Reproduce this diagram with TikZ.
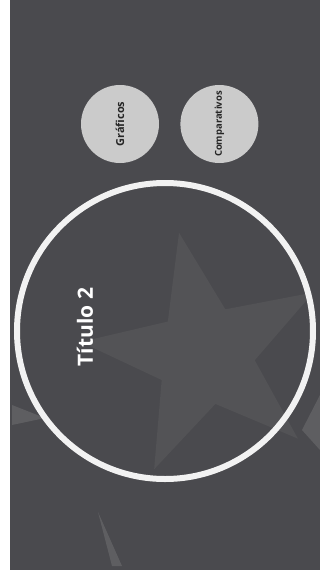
\documentclass[tikz,border=0pt]{standalone}
\usepackage{fontspec}
\setmainfont{Open Sans}
\usepackage{tikz}
\usetikzlibrary{positioning, shapes.geometric}
\definecolor{slidedark}{HTML}{4A4A4E}
\definecolor{slidestar}{HTML}{535356}
\definecolor{slidefaint}{HTML}{5E5E61}
\definecolor{slidebubble}{HTML}{CBCBCB}
\definecolor{slidering}{HTML}{F2F2F2}
\tikzset{
  ring/.style={circle, draw=slidering, line width=6pt, minimum size=296pt, inner sep=0pt},
  bubble/.style={circle, fill=slidebubble, minimum size=78pt, inner sep=0pt},
  bubbletext/.style={rotate=90, font=\bfseries, text=black!85, inner sep=0pt},
  titletext/.style={rotate=90, font=\fontsize{21}{24}\selectfont\bfseries, text=white, inner sep=0pt},
  starbg/.style={star, star points=5, star point ratio=2.5, inner sep=0pt, fill=slidestar},
}

\begin{document}
\begin{tikzpicture}[x=1pt, y=-1pt]
  \useasboundingbox (0,0) rectangle (320,579);
  \fill[white] (0,0) rectangle (320,579);
  \fill[slidedark] (10,0) rectangle (320,570);

  % background stars
  \node[starbg, minimum size=250pt, shape border rotate=12] (bigstar) at (205,355) {};
  \fill[slidefaint] (98,512) -- (122,566) -- (112,566) -- cycle;
  \fill[slidefaint] (12,405) -- (45,418) -- (12,425) -- cycle;
  \fill[slidefaint] (320,395) -- (302,430) -- (320,450) -- cycle;

  % main circle
  \node[ring] (main) at (165,331) {};
  \node[titletext] (title) at (85,327) {Título 2};

  % small circles
  \node[bubble] (graf) at (120,124) {};
  \node[bubble, right=21pt of graf] (comp) {};
  \node[bubbletext, font=\fontsize{11}{13}\selectfont\bfseries] (graftext) at (graf) {Gráficos};
  \node[bubbletext, font=\fontsize{9.5}{11}\selectfont\bfseries] (comptext) at (comp) {Comparativos};
\end{tikzpicture}
\end{document}
